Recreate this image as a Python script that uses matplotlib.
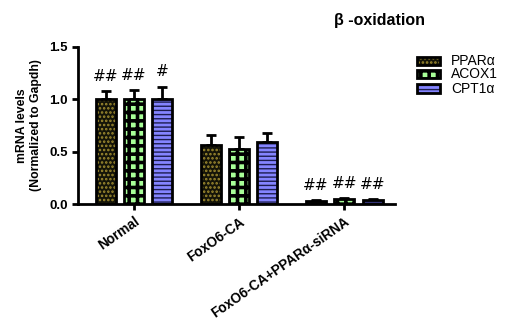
import matplotlib
matplotlib.use("Agg")
import matplotlib.pyplot as plt
from matplotlib.patches import Rectangle
import numpy as np

plt.rcParams['font.family'] = ['Liberation Sans', 'DejaVu Sans']

groups = ["Normal", "FoxO6-CA", "FoxO6-CA+PPARα-siRNA"]
series = ["PPARα", "ACOX1", "CPT1α"]
means = [
    [1.00, 0.56, 0.03],   # PPARa
    [1.00, 0.53, 0.05],   # ACOX1
    [1.00, 0.59, 0.04],   # CPT1a
]
errs = [
    [0.08, 0.10, 0.01],
    [0.09, 0.11, 0.01],
    [0.12, 0.09, 0.01],
]
marks = [
    ["##", "", "##"],
    ["##", "", "##"],
    ["#", "", "##"],
]

# face, hatch, hatch color, hatch lw
styles = [
    ("#141408", "....", "#a08c30", 1.2),
    ("#a8ff98", "++", "#000000", 2.6),
    ("#8484ff", "----", "#1c1c50", 1.0),
]

fig = plt.figure(figsize=(5.10, 3.21), dpi=100)
ax = fig.add_axes([0.153, 0.364, 0.622, 0.490])

x = np.arange(len(groups))
width = 0.19
offs = [-0.27, 0.0, 0.27]

for i in range(len(series)):
    face, hatch, hcol, hlw = styles[i]
    xs = x + offs[i]
    with plt.rc_context({'hatch.linewidth': hlw}):
        ax.bar(xs, means[i], width, color=face, hatch=hatch, edgecolor=hcol,
               linewidth=0, zorder=2)
    ax.bar(xs, means[i], width, fill=False, edgecolor="black", linewidth=2, zorder=3)
    ax.errorbar(xs, means[i], yerr=[np.zeros(3), errs[i]], fmt="none",
                ecolor="black", elinewidth=2, capsize=3.5, capthick=2, zorder=1)
    for j in range(len(groups)):
        if marks[i][j]:
            top = means[i][j] + errs[i][j]
            ax.text(xs[j], top + 0.07, marks[i][j], ha="center", va="bottom",
                    fontsize=11, family="DejaVu Sans")

ax.set_xlim(-0.533, 2.486)
ax.set_ylim(0, 1.5)
ax.set_yticks([0, 0.5, 1.0, 1.5])
ax.set_yticklabels(["0.0", "0.5", "1.0", "1.5"], fontweight="bold", fontsize=9.5)
ax.set_xticks(x)
ax.set_xticklabels(groups, rotation=35, ha="right", rotation_mode="anchor",
                   fontweight="bold", fontsize=9.8)
ax.tick_params(axis="both", width=2, length=4, direction="out")
for s in ["top", "right"]:
    ax.spines[s].set_visible(False)
for s in ["left", "bottom"]:
    ax.spines[s].set_linewidth(2)

ax.set_ylabel("mRNA levels\n(Normalized to Gapdh)", fontweight="bold", fontsize=8.8,
              labelpad=5)

fig.text(0.745, 0.935, "β -oxidation", ha="center", va="center",
         fontweight="bold", fontsize=11.5)

# legend drawn as black-bordered swatches
leg_y = [0.810, 0.770, 0.724]
sw_h = 0.026
for i in range(len(series)):
    face, hatch, hcol, hlw = styles[i]
    with plt.rc_context({'hatch.linewidth': hlw}):
        fig.patches.append(Rectangle((0.818, leg_y[i] - sw_h / 2), 0.045, sw_h,
                                     transform=fig.transFigure, facecolor=face,
                                     hatch=hatch, edgecolor=hcol, linewidth=0))
    fig.patches.append(Rectangle((0.818, leg_y[i] - sw_h / 2), 0.045, sw_h,
                                 transform=fig.transFigure, fill=False,
                                 edgecolor="black", linewidth=2))
    fig.text(0.885, leg_y[i], series[i], va="center", ha="left", fontsize=10)

fig.savefig("out.png", dpi=100)
